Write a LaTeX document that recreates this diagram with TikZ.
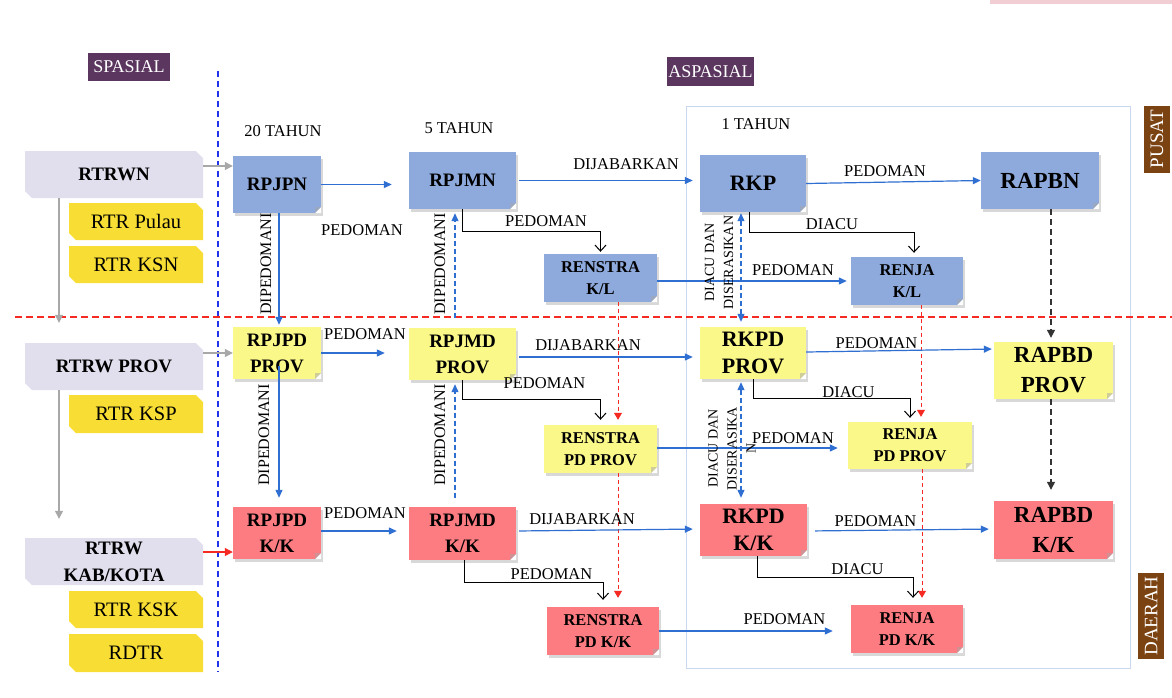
\documentclass[tikz,border=0pt]{standalone}
\usepackage{fontspec}
\setmainfont{Liberation Serif}
\usetikzlibrary{arrows.meta,shadows,calc}
\definecolor{nblue}{HTML}{8EA9DB}
\definecolor{nyel}{HTML}{FBF88A}
\definecolor{nred}{HTML}{FC7C82}
\definecolor{lav}{HTML}{E1DFED}
\definecolor{syel}{HTML}{F8DE34}
\definecolor{tpurple}{HTML}{5B3760}
\definecolor{tbrown}{HTML}{7B4212}
\definecolor{ablue}{HTML}{2F6FD2}
\definecolor{dblue}{HTML}{2233EE}
\definecolor{dred}{HTML}{F52A22}
\definecolor{framec}{HTML}{C9D7EF}
\definecolor{agray}{HTML}{A8A8A8}
\definecolor{pinkstrip}{HTML}{F1CDD4}
\newcommand\fntLbl{\fontsize{16.5}{19}\selectfont}
\newcommand\fntV{\fontsize{16}{18}\selectfont}
\newcommand\fntVs{\fontsize{14}{19}\selectfont}
\newcommand\fntP{\fontsize{19}{26}\selectfont\bfseries}
\newcommand\fntRK{\fontsize{22}{27}\selectfont\bfseries}
\newcommand\fntRA{\fontsize{23}{30}\selectfont\bfseries}
\newcommand\fntRS{\fontsize{16.5}{22}\selectfont\bfseries}
\newcommand\fntSB{\fontsize{19}{27}\selectfont\bfseries}
\newcommand\fntSR{\fontsize{20.5}{24}\selectfont}
\newcommand\fntT{\fontsize{18}{20}\selectfont}
\newcommand\fntTV{\fontsize{19}{20}\selectfont}
\begin{document}
\begin{tikzpicture}[x=1pt,y=-1pt,
  lbl/.style={font=\fntLbl, inner sep=0pt},
  vlbl/.style={font=\fntV, inner sep=0pt, rotate=90},
  vlbltwo/.style={font=\fntVs, inner sep=0pt, rotate=90, align=center},
  fold/.style={path picture={
    \fill[white] ([xshift=-6pt]path picture bounding box.south east) -- (path picture bounding box.south east) -- ([yshift=6pt]path picture bounding box.south east) -- cycle;
    \fill[black!35,opacity=.5] ([xshift=-6pt]path picture bounding box.south east) -- ([xshift=-6pt,yshift=6pt]path picture bounding box.south east) -- ([yshift=6pt]path picture bounding box.south east) -- cycle;}},
  plan/.style={inner sep=0pt, align=center, fill=#1, drop shadow={shadow xshift=2pt, shadow yshift=-2.5pt, opacity=.3}, fold},
  spat/.style={inner sep=0pt, align=center, fill=white, path picture={
    \fill[#1] (path picture bounding box.north west) -- ([xshift=-7pt]path picture bounding box.north east) -- ([yshift=-7pt]path picture bounding box.north east) -- (path picture bounding box.south east) -- ([xshift=7pt]path picture bounding box.south west) -- ([yshift=7pt]path picture bounding box.south west) -- cycle;}},
  ttl/.style={text=white, inner sep=0pt},
  barr/.style={draw=ablue, line width=1.2pt, -{Triangle[length=8pt,width=7pt]}},
  karr/.style={draw=black, line width=1pt, -{Straight Barb[length=6pt,width=11pt]}},
  grayarr/.style={draw=agray, line width=1.2pt, -{Triangle[length=8pt,width=8pt]}},
  redarr/.style={draw=dred, line width=1.2pt, -{Triangle[length=8pt,width=8pt]}},
  rdash/.style={draw=dred, line width=1pt, dash pattern=on 4pt off 3pt, -{Triangle[length=7pt,width=8pt]}},
  kdash/.style={draw=black!80, line width=1.2pt, dash pattern=on 6pt off 4pt, -{Triangle[length=8pt,width=8pt]}},
  bdash/.style={draw=ablue, line width=1.1pt, dash pattern=on 5pt off 3pt, -{Triangle[length=8pt,width=7pt]}},
  bdashtwo/.style={draw=ablue, line width=1.1pt, dash pattern=on 5pt off 3pt, {Triangle[length=8pt,width=7pt]}-{Triangle[length=8pt,width=7pt]}}
]
\useasboundingbox (0,0) rectangle (1172,697);
\fill[white] (0,0) rectangle (1172,697);
\fill[pinkstrip] (990,0) rectangle (1172,4);

% background frames and separators
\draw[framec, line width=1pt] (686,106) rectangle (1130,668);
\draw[dblue, line width=1.5pt, dash pattern=on 6pt off 4pt] (218,71) -- (218,672);
\draw[dred, line width=1.5pt, dash pattern=on 7pt off 4pt] (15,317) -- (1172,317);

% titles
\node[ttl, fill=tpurple, font=\fntT, minimum width=82pt, minimum height=28pt] (spasial) at (129,67) {SPASIAL};
\node[ttl, fill=tpurple, font=\fntT, minimum width=87pt, minimum height=29pt] (aspasial) at (710.5,71.5) {ASPASIAL};
\node[ttl, fill=tbrown, font=\fntTV, rotate=90, minimum width=67pt, minimum height=26pt] (pusat) at (1157,139) {PUSAT};
\node[ttl, fill=tbrown, font=\fntTV, rotate=90, minimum width=86pt, minimum height=26pt] (daerah) at (1151,616) {DAERAH};

% column headers
\node[lbl] (t20) at (283,131) {20 TAHUN};
\node[lbl] (t5) at (459,128) {5 TAHUN};
\node[lbl] (t1) at (756,124) {1 TAHUN};

% spatial nodes
\node[spat=lav, font=\fntSB, minimum width=178pt, minimum height=47pt] (rtrwn) at (114,174.5) {RTRWN};
\node[spat=syel, font=\fntSR, minimum width=134pt, minimum height=37pt] (rtrpulau) at (136,221.5) {RTR Pulau};
\node[spat=syel, font=\fntSR, minimum width=134pt, minimum height=37pt] (rtrksn) at (136,264.5) {RTR KSN};
\node[spat=lav, font=\fntSB, minimum width=178pt, minimum height=47pt] (rtrwprov) at (114,366.5) {RTRW PROV};
\node[spat=syel, font=\fntSR, minimum width=134pt, minimum height=38pt] (rtrksp) at (136,414) {RTR KSP};
\node[spat=lav, font=\fntSB, minimum width=178pt, minimum height=47pt] (rtrwkab) at (114,561.5) {RTRW\\KAB/KOTA};
\node[spat=syel, font=\fntSR, minimum width=134pt, minimum height=37pt] (rtrksk) at (136,609.5) {RTR KSK};
\node[spat=syel, font=\fntSR, minimum width=134pt, minimum height=38pt] (rdtr) at (136,653) {RDTR};

% planning nodes - row 1
\node[plan=nblue, font=\fntP, minimum width=88pt, minimum height=57pt] (rpjpn) at (277,184.5) {RPJPN};
\node[plan=nblue, font=\fntP, minimum width=107pt, minimum height=57pt] (rpjmn) at (462.5,180.5) {RPJMN};
\node[plan=nblue, font=\fntRS, minimum width=113pt, minimum height=48pt] (renstrakl) at (600.5,278) {RENSTRA\\K/L};
\node[plan=nblue, font=\fntRK, minimum width=106pt, minimum height=57pt] (rkp) at (753,183.5) {RKP};
\node[plan=nblue, font=\fntRS, minimum width=112pt, minimum height=48pt] (renjakl) at (907,281) {RENJA\\K/L};
\node[plan=nblue, font=\fntRA, minimum width=118pt, minimum height=57pt] (rapbn) at (1040,180.5) {RAPBN};
% row 2
\node[plan=nyel, font=\fntP, minimum width=88pt, minimum height=52pt] (rpjpdprov) at (277,353) {RPJPD\\PROV};
\node[plan=nyel, font=\fntP, minimum width=107pt, minimum height=52pt] (rpjmdprov) at (462.5,354) {RPJMD\\PROV};
\node[plan=nyel, font=\fntRS, minimum width=113pt, minimum height=48pt] (renstrapdprov) at (600.5,449) {RENSTRA\\PD PROV};
\node[plan=nyel, font=\fntRK, minimum width=106pt, minimum height=52pt] (rkpdprov) at (753,353) {RKPD\\PROV};
\node[plan=nyel, font=\fntRS, minimum width=124pt, minimum height=47pt] (renjapdprov) at (910,445.5) {RENJA\\PD PROV};
\node[plan=nyel, font=\fntRA, minimum width=119pt, minimum height=57pt] (rapbdprov) at (1053.5,370.5) {RAPBD\\PROV};
% row 3
\node[plan=nred, font=\fntP, minimum width=88pt, minimum height=52pt] (rpjpdkk) at (277,533) {RPJPD\\K/K};
\node[plan=nred, font=\fntP, minimum width=107pt, minimum height=53pt] (rpjmdkk) at (462.5,533.5) {RPJMD\\K/K};
\node[plan=nred, font=\fntRS, minimum width=112pt, minimum height=48pt] (renstrapdkk) at (603,631) {RENSTRA\\PD K/K};
\node[plan=nred, font=\fntRK, minimum width=107pt, minimum height=52pt] (rkpdkk) at (753.5,530) {RKPD\\K/K};
\node[plan=nred, font=\fntRS, minimum width=112pt, minimum height=48pt] (renjapdkk) at (907,629) {RENJA\\PD K/K};
\node[plan=nred, font=\fntRA, minimum width=119pt, minimum height=58pt] (rapbdkk) at (1053.5,530) {RAPBD\\K/K};

% spatial connectors
\coordinate (xg) at (59,0);
\coordinate (yn) at (0,166);
\coordinate (yk) at (0,552);
\draw[grayarr] (rtrwn.east |- yn) -- (rpjpn.west |- yn);
\draw[grayarr] (rtrwprov.east |- rpjpdprov.west) -- (rpjpdprov.west);
\draw[redarr] (rtrwkab.east |- yk) -- (rpjpdkk.west |- yk);
\draw[grayarr, shorten >=20pt] (rtrwn.south -| xg) -- (rtrwprov.north -| xg);
\draw[grayarr, shorten >=19pt] (rtrwprov.south -| xg) -- (rtrwkab.north -| xg);

% row 1 connectors
\draw[barr, shorten >=17pt] (rpjpn.east) -- node[lbl, midway, xshift=-3pt, yshift=-45.5pt]{PEDOMAN} (rpjpn.east -| rpjmn.west);
\draw[barr, shorten <=3pt, shorten >=7pt] (rpjmn.east) -- node[lbl, midway, xshift=18pt, yshift=16.5pt]{DIJABARKAN} (rpjmn.east -| rkp.west);
\draw[barr] (rkp.east) -- node[lbl, midway, xshift=-8.5pt, yshift=11pt]{PEDOMAN} (rapbn.west);
\draw[karr, shorten >=2pt] (rpjmn.south) |- node[lbl, pos=.75, xshift=14.5pt, yshift=11pt]{PEDOMAN} ([yshift=22pt]renstrakl.north) -- (renstrakl.north);
\draw[karr, shorten >=4pt] ([xshift=-4pt]rkp.south) |- node[lbl, pos=.75, xshift=.5pt, yshift=9pt]{DIACU} ([xshift=7pt,yshift=24pt]renjakl.north) -- ([xshift=7pt]renjakl.north);
\draw[barr, shorten >=4pt] ([yshift=-3pt]renstrakl.east) -- node[lbl, midway, xshift=39pt, yshift=11pt]{PEDOMAN} ([yshift=-3pt]renstrakl.east -| renjakl.west);
\draw[kdash, shorten >=4pt] ([xshift=11pt]rapbn.south) -- ([xshift=11pt]rapbn.south |- rapbdprov.north);
\draw[barr, shorten >=2pt] ([xshift=2pt]rpjpn.south) -- node[midway, xshift=-13pt, yshift=6pt, vlbl]{DIPEDOMANI} ([xshift=2pt]rpjpn.south |- rpjpdprov.north);
\draw[bdash, shorten <=10pt, shorten >=4pt] ([xshift=-7.5pt]rpjmdprov.north) -- node[midway, xshift=-15pt, yshift=4.5pt, vlbl]{DIPEDOMANI} ([xshift=-7.5pt]rpjmdprov.north |- rpjmn.south);
\draw[bdashtwo, shorten <=1pt, shorten >=5pt] ([xshift=-12pt]rkp.south) -- node[midway, xshift=-22pt, yshift=7pt, vlbltwo]{DIACU DAN\\DISERASIKAN} ([xshift=-12pt]rkp.south |- rkpdprov.north);

% red dashed connectors
\draw[rdash, shorten >=5pt] ([xshift=17.5pt]renstrakl.south) -- ([xshift=17.5pt]renstrakl.south |- renstrapdprov.north);
\draw[rdash, shorten >=9pt] ([xshift=17.5pt]renstrapdprov.south) -- ([xshift=17.5pt]renstrapdprov.south |- renstrapdkk.north);
\draw[rdash, shorten >=5pt] ([xshift=14pt]renjakl.south) -- ([xshift=14pt]renjakl.south |- renjapdprov.north);
\draw[rdash, shorten >=7pt] ([xshift=12pt]renjapdprov.south) -- ([xshift=12pt]renjapdprov.south |- renjapdkk.north);

% row 2 connectors
\draw[barr, shorten >=24pt] (rpjpdprov.east) -- node[lbl, midway, yshift=19pt]{PEDOMAN} (rpjpdprov.east -| rpjmdprov.west);
\draw[barr, shorten <=3pt, shorten >=7pt] ([yshift=-3pt]rpjmdprov.east) -- node[lbl, midway, xshift=-20pt, yshift=12pt]{DIJABARKAN} ([yshift=-3pt]rpjmdprov.east -| rkpdprov.west);
\draw[barr, shorten >=2pt] ([yshift=1pt]rkpdprov.east) -- node[lbl, midway, xshift=-23.5pt, yshift=7.5pt]{PEDOMAN} ([yshift=21.5pt]rapbdprov.west);
\draw[karr, shorten >=5pt] (rpjmdprov.south) |- node[lbl, pos=.75, xshift=13pt, yshift=17pt]{PEDOMAN} ([yshift=25pt]renstrapdprov.north) -- (renstrapdprov.north);
\draw[karr, shorten >=4pt] (rkpdprov.south) |- node[lbl, pos=.75, xshift=17pt, yshift=7pt]{DIACU} ([yshift=23pt]renjapdprov.north) -- (renjapdprov.north);
\draw[barr, shorten >=10pt] ([yshift=1pt]renstrapdprov.east) -- node[lbl, midway, xshift=40.5pt, yshift=10pt]{PEDOMAN} ([yshift=1pt]renstrapdprov.east -| renjapdprov.west);
\draw[kdash, shorten >=11pt] ([xshift=-2.5pt]rapbdprov.south) -- ([xshift=-2.5pt]rapbdprov.south |- rapbdkk.north);
\draw[barr, shorten >=9pt] ([xshift=2pt,yshift=-13pt]rpjpdprov.center) -- node[midway, xshift=-15pt, yshift=1.5pt, vlbl]{DIPEDOMANI} ([xshift=2pt]rpjpdprov.center |- rpjpdkk.north);
\draw[bdash, shorten <=9pt, shorten >=4pt] ([xshift=-7.5pt]rpjmdkk.north) -- node[midway, xshift=-15pt, yshift=8.5pt, vlbl]{DIPEDOMANI} ([xshift=-7.5pt]rpjmdkk.north |- rpjmdprov.south);
\draw[bdashtwo, shorten <=3pt, shorten >=6pt] ([xshift=-12pt]rkpdprov.south) -- node[midway, xshift=-9pt, yshift=-7pt, vlbltwo]{DIACU DAN\\DISERASIKA\\N} ([xshift=-12pt]rkpdprov.south |- rkpdkk.north);

% row 3 connectors
\draw[barr, shorten >=12pt] ([yshift=2pt]rpjpdkk.east) -- node[lbl, midway, yshift=18pt]{PEDOMAN} ([yshift=2pt]rpjpdkk.east -| rpjmdkk.west);
\draw[barr, shorten <=3pt, shorten >=7pt] ([yshift=2.5pt]rpjmdkk.east) -- node[lbl, midway, xshift=-26pt, yshift=11pt]{DIJABARKAN} ([yshift=1pt]rkpdkk.west);
\draw[barr, shorten <=8pt, shorten >=5pt] ([yshift=-1pt]rkpdkk.east) -- node[lbl, midway, xshift=-25pt, yshift=9pt]{PEDOMAN} ([yshift=1pt]rapbdkk.west);
\draw[karr, shorten >=7pt] ([xshift=1.5pt]rpjmdkk.south) |- node[lbl, pos=.75, xshift=18pt, yshift=9pt]{PEDOMAN} ([yshift=24pt]renstrapdkk.north) -- (renstrapdkk.north);
\draw[karr, shorten >=7pt] ([xshift=3.5pt]rkpdkk.south) |- node[lbl, pos=.75, xshift=22.5pt, yshift=9pt]{DIACU} ([xshift=6pt,yshift=27pt]renjapdkk.north) -- ([xshift=6pt]renjapdkk.north);
\draw[barr, shorten >=18pt] (renstrapdkk.east) -- node[lbl, midway, xshift=29.5pt, yshift=12pt]{PEDOMAN} (renstrapdkk.east -| renjapdkk.west);
\end{tikzpicture}
\end{document}
